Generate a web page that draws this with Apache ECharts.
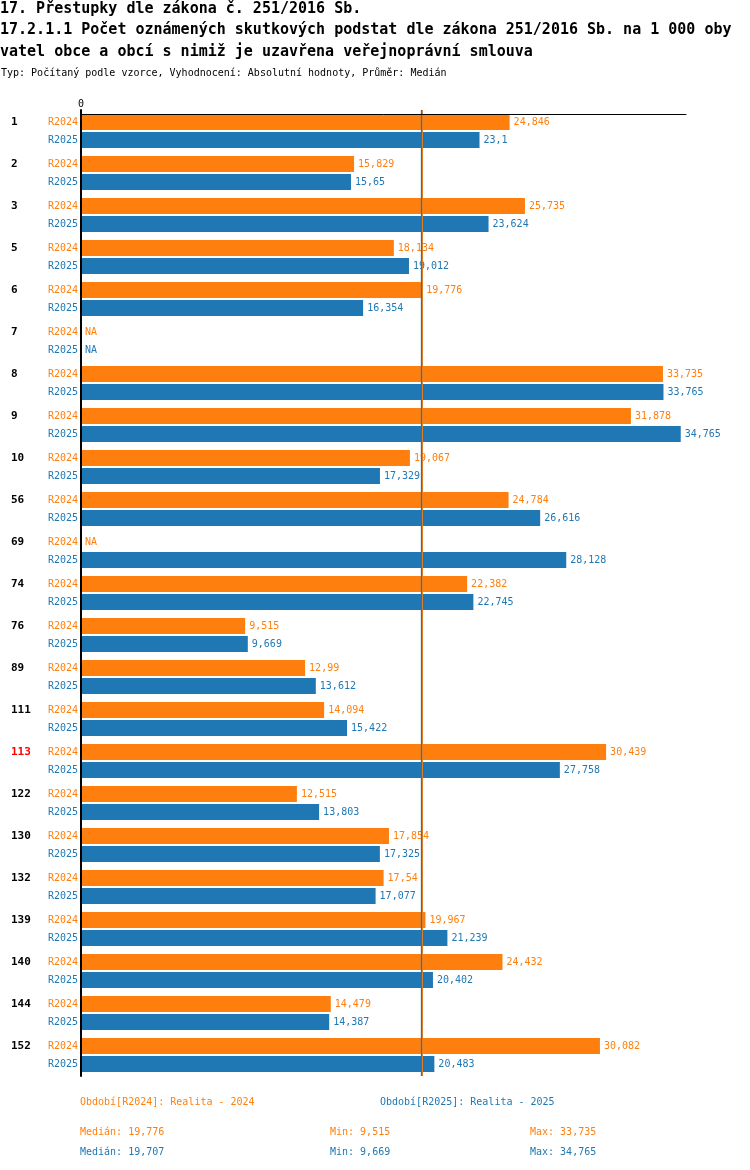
<!DOCTYPE html>
<html>
<head>
<meta charset="utf-8">
<script src="https://cdn.jsdelivr.net/npm/echarts@6/dist/echarts.min.js"></script>
<style>html,body{margin:0;padding:0;background:#fff}#c{width:750px;height:1170px}</style>
</head>
<body>
<div id="c"></div>
<script>
const categories = ['1','2','3','5','6','7','8','9','10','56','69','74','76','89','111','113','122','130','132','139','140','144','152'];
const r2024 = [24.846,15.829,25.735,18.134,19.776,null,33.735,31.878,19.067,24.784,null,22.382,9.515,12.99,14.094,30.439,12.515,17.854,17.54,19.967,24.432,14.479,30.082];
const r2025 = [23.1,15.65,23.624,19.012,16.354,null,33.765,34.765,17.329,26.616,28.128,22.745,9.669,13.612,15.422,27.758,13.803,17.325,17.077,21.239,20.402,14.387,20.483];
const highlighted = ['113'];
const seriesNames = ['R2024','R2025'];
const legendTexts = ['Období[R2024]: Realita - 2024','Období[R2025]: Realita - 2025'];
const titleLines = [
  '17. Přestupky dle zákona č. 251/2016 Sb.',
  '17.2.1.1 Počet oznámených skutkových podstat dle zákona 251/2016 Sb. na 1 000 oby',
  'vatel obce a obcí s nimiž je uzavřena veřejnoprávní smlouva'
];
const subtitle = 'Typ: Počítaný podle vzorce, Vyhodnocení: Absolutní hodnoty, Průměr: Medián';

const ORANGE = '#ff7f0e', BLUE = '#1f77b4';
const FONT = 'DejaVu Sans Mono';

function fmt(v){ return String(Number(v.toFixed(3))).replace('.', ','); }
function stats(arr){
  const a = arr.filter(v => v !== null).sort((x,y) => x-y);
  const n = a.length;
  const med = n % 2 ? a[(n-1)/2] : (a[n/2-1] + a[n/2]) / 2;
  return {med: Number(med.toFixed(3)), min: a[0], max: a[n-1]};
}
const s24 = stats(r2024), s25 = stats(r2025);

function toData(arr){
  return arr.map(v => v === null ? {value: 0, na: true} : {value: v});
}

const chart = echarts.init(document.getElementById('c'), null, {renderer: 'canvas'});

function makeSeries(name, arr, color, markData){
  const s = {
    name: name,
    type: 'bar',
    data: toData(arr),
    barWidth: 16,
    barGap: '12.5%',
    itemStyle: {color: color},
    label: {
      show: true, position: 'right', distance: 4,
      fontFamily: FONT, fontSize: 10, color: color,
      formatter: p => p.data.na ? 'NA' : fmt(p.value)
    },
    animation: false
  };
  if (markData) {
    s.markLine = {
      silent: true, symbol: 'none', z: 8, animation: false,
      label: {show: false},
      lineStyle: {type: 'solid', width: 1},
      data: markData
    };
  }
  return s;
}

const medianLines = [
  {xAxis: s24.med, lineStyle: {color: ORANGE, type: 'solid', width: 1}},
  {xAxis: s25.med, lineStyle: {color: BLUE, type: 'solid', width: 1.3}}
];

const graphics = [];
const titleY = [9, 30, 52];
titleLines.forEach((t, i) => graphics.push({
  type: 'text', x: 0, y: titleY[i],
  style: {text: t, fontFamily: FONT, fontSize: 15, fontWeight: 'bold', fill: '#000', verticalAlign: 'middle'}
}));
graphics.push({type: 'text', x: 1, y: 73,
  style: {text: subtitle, fontFamily: FONT, fontSize: 10, fill: '#000', verticalAlign: 'middle'}});
graphics.push({type: 'text', x: 80, y: 1102,
  style: {text: legendTexts[0], fontFamily: FONT, fontSize: 10, fill: ORANGE, verticalAlign: 'middle'}});
graphics.push({type: 'text', x: 380, y: 1102,
  style: {text: legendTexts[1], fontFamily: FONT, fontSize: 10, fill: BLUE, verticalAlign: 'middle'}});
[[s24, ORANGE, 1132], [s25, BLUE, 1152]].forEach(([s, c, y]) => {
  graphics.push({type: 'text', x: 80, y: y, style: {text: 'Medián: ' + fmt(s.med), fontFamily: FONT, fontSize: 10, fill: c, verticalAlign: 'middle'}});
  graphics.push({type: 'text', x: 330, y: y, style: {text: 'Min: ' + fmt(s.min), fontFamily: FONT, fontSize: 10, fill: c, verticalAlign: 'middle'}});
  graphics.push({type: 'text', x: 530, y: y, style: {text: 'Max: ' + fmt(s.max), fontFamily: FONT, fontSize: 10, fill: c, verticalAlign: 'middle'}});
});

chart.setOption({
  animation: false,
  grid: {left: 81, top: 110, width: 605, height: 966, containLabel: false},
  xAxis: {
    type: 'value', position: 'top', min: 0, max: 35.07, interval: 35.07, offset: -4, z: 10,
    axisLine: {show: true, lineStyle: {color: '#000', width: 1}},
    axisTick: {show: false}, splitLine: {show: false},
    axisLabel: {fontFamily: FONT, fontSize: 10, color: '#000', margin: 5, showMaxLabel: false,
      formatter: v => v === 0 ? '0' : ''}
  },
  yAxis: {
    type: 'category', data: categories, inverse: true, z: 10,
    axisLine: {show: true, lineStyle: {color: '#000', width: 2}},
    axisTick: {show: false},
    axisLabel: {
      margin: 3, interval: 0,
      formatter: v => (highlighted.includes(v) ? '{h|' + v + '}' : '{n|' + v + '}') + '{a|' + seriesNames[0] + '}\n{b|' + seriesNames[1] + '}',
      rich: {
        n: {width: 37, align: 'left', fontFamily: FONT, fontSize: 11, fontWeight: 'bold', color: '#000', lineHeight: 18},
        h: {width: 37, align: 'left', fontFamily: FONT, fontSize: 11, fontWeight: 'bold', color: '#ff0000', lineHeight: 18},
        a: {fontFamily: FONT, fontSize: 10, color: ORANGE, lineHeight: 18},
        b: {fontFamily: FONT, fontSize: 10, color: BLUE, lineHeight: 18}
      }
    }
  },
  series: [makeSeries(seriesNames[0], r2024, ORANGE, null), makeSeries(seriesNames[1], r2025, BLUE, medianLines)],
  graphic: graphics
});
</script>
</body>
</html>
